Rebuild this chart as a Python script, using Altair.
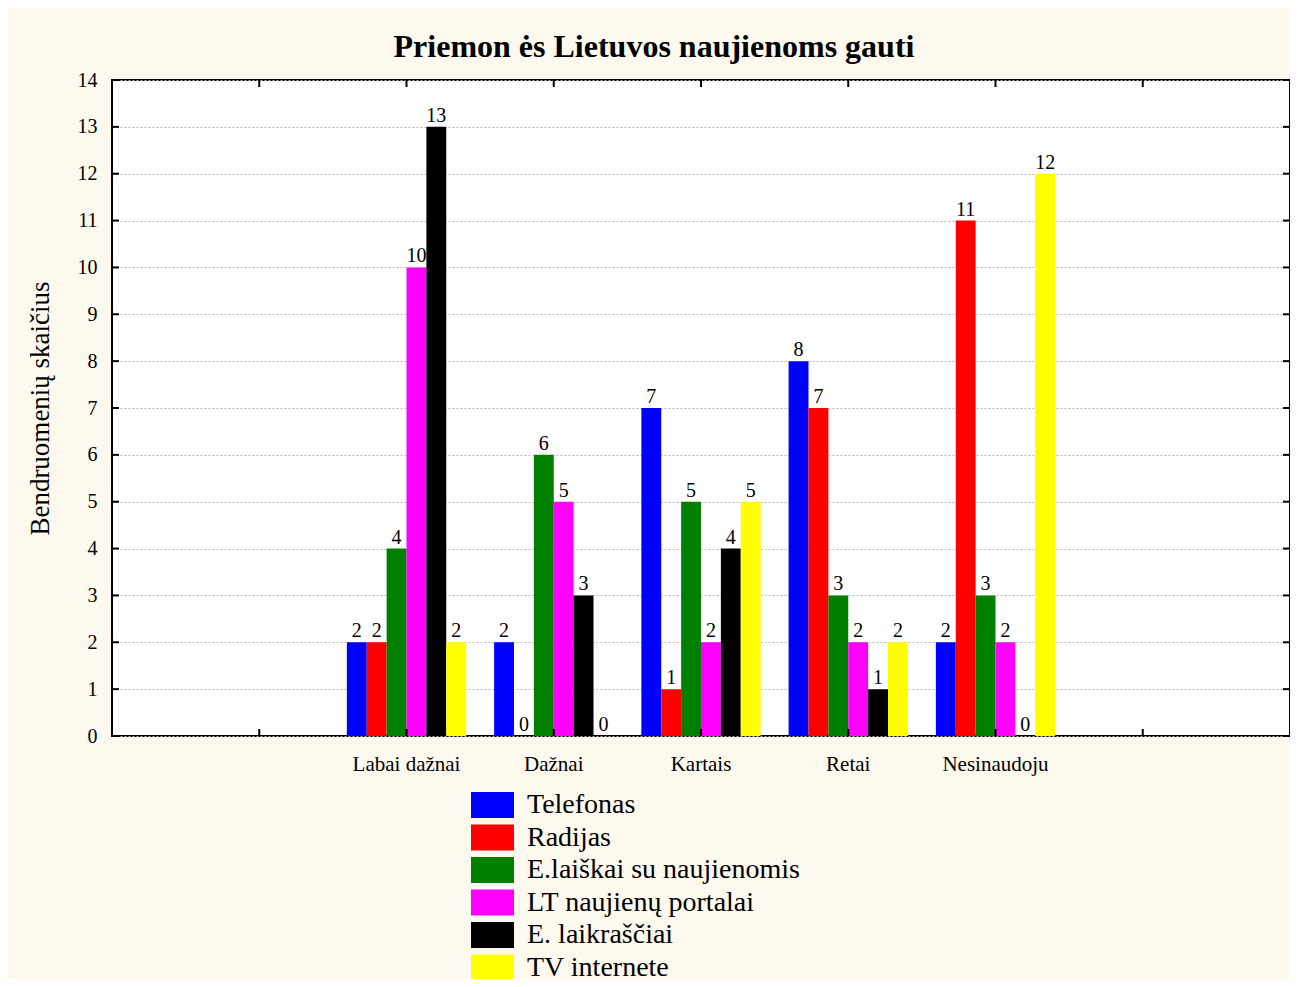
import altair as alt
import pandas as pd

categories = ["Labai dažnai", "Dažnai", "Kartais", "Retai", "Nesinaudoju"]
series = ["Telefonas", "Radijas", "E.laiškai su naujienomis",
          "LT naujienų portalai", "E. laikraščiai", "TV internete"]
telefonas = [2, 2, 7, 8, 2]
radijas = [2, 0, 1, 7, 11]
elaiskai = [4, 6, 5, 3, 3]
portalai = [10, 5, 2, 2, 2]
laikrasciai = [13, 3, 4, 1, 0]
tv = [2, 0, 5, 2, 12]
colors = ["#0000FF", "#FF0000", "#008000", "#FF00FF", "#000000", "#FFFF00"]
y_ticks = list(range(0, 15))
x_domain = [" "] + categories + ["  "]

FONT = "Liberation Serif"
W, H = 1178, 656

values = [telefonas, radijas, elaiskai, portalai, laikrasciai, tv]
rows = []
for s, vals in zip(series, values):
    for c, v in zip(categories, vals):
        rows.append({"cat": c, "series": s, "value": v})
df = pd.DataFrame(rows)
xt = pd.DataFrame({"cat": x_domain})
yt = pd.DataFrame({"v": y_ticks})

xscale = alt.Scale(domain=x_domain, paddingInner=0.19, paddingOuter=0.595)
xoff = alt.Scale(domain=series, paddingInner=0, paddingOuter=0)
yscale = alt.Scale(domain=[0, 14], nice=False)

base = alt.Chart(df)

bars = base.mark_bar().encode(
    x=alt.X("cat:N", scale=xscale, sort=x_domain,
            axis=alt.Axis(title=None, labelFont=FONT, labelFontSize=21,
                          labelColor="black", labelPadding=17, ticks=False,
                          domain=False, grid=False, labelAngle=0)),
    xOffset=alt.XOffset("series:N", scale=xoff, sort=series),
    y=alt.Y("value:Q", scale=yscale,
            axis=alt.Axis(values=y_ticks, grid=True, gridDash=[2, 2],
                          gridColor="#BBBBBB", gridWidth=1, ticks=False,
                          domain=False, labelFont=FONT, labelFontSize=20,
                          labelColor="black", labelPadding=15,
                          title="Bendruomenių skaičius", titleFont=FONT,
                          titleFontSize=27, titleFontWeight="normal",
                          titleColor="black", titlePadding=23)),
    color=alt.Color("series:N", sort=series,
                    scale=alt.Scale(domain=series, range=colors),
                    legend=alt.Legend(
                        title=None, orient="none", legendX=359, legendY=709,
                        symbolType="M-1,-0.6L1,-0.6L1,0.6L-1,0.6Z",
                        symbolSize=1849, symbolStrokeWidth=0,
                        symbolOpacity=1, labelFont=FONT, labelFontSize=28,
                        labelColor="black", labelOffset=13, rowPadding=0.5,
                        clipHeight=32, labelLimit=500)),
)

labels = base.mark_text(baseline="bottom", dy=-1, font=FONT, fontSize=20,
                        color="black").encode(
    x=alt.X("cat:N", scale=xscale, sort=x_domain),
    xOffset=alt.XOffset("series:N", scale=xoff, sort=series),
    y=alt.Y("value:Q", scale=yscale),
    text=alt.Text("value:Q"),
)

tick_top = alt.Chart(xt).mark_rule(color="black", strokeWidth=2).encode(
    x=alt.X("cat:N", scale=xscale, sort=x_domain, bandPosition=0.5),
    y=alt.value(0), y2=alt.value(7))
tick_bot = alt.Chart(xt).mark_rule(color="black", strokeWidth=2).encode(
    x=alt.X("cat:N", scale=xscale, sort=x_domain, bandPosition=0.5),
    y=alt.value(H - 7), y2=alt.value(H))
tick_left = alt.Chart(yt).mark_rule(color="black", strokeWidth=2).encode(
    y=alt.Y("v:Q", scale=yscale), x=alt.value(0), x2=alt.value(7))
tick_right = alt.Chart(yt).mark_rule(color="black", strokeWidth=2).encode(
    y=alt.Y("v:Q", scale=yscale), x=alt.value(W - 7), x2=alt.value(W))

chart = alt.layer(bars, labels, tick_top, tick_bot, tick_left, tick_right).properties(
    width=W, height=H,
    title=alt.TitleParams("Priemon ės Lietuvos naujienoms gauti", font=FONT,
                          fontSize=32, fontWeight="bold", color="black",
                          anchor="middle", dx=-47, dy=6, offset=12),
    autosize=alt.AutoSizeParams(type="none"),
    padding={"left": 104, "top": 72, "right": 0, "bottom": 243},
    background="#FDF9EE",
).configure_view(stroke="black", strokeWidth=2, fill="white")

chart.save("out.html", embed_options={"renderer": "svg", "actions": False})
